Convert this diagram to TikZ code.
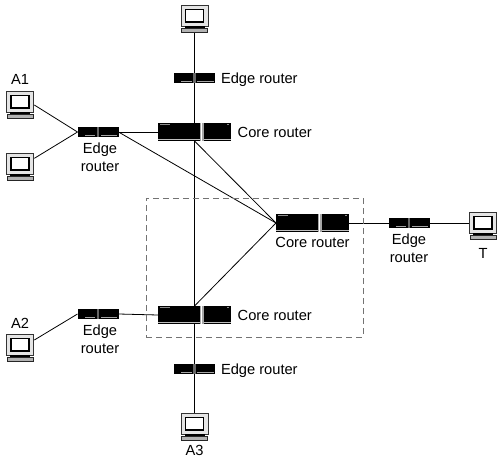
\documentclass[tikz,border=0pt]{standalone}
\usepackage{fontspec}
\setmainfont{Liberation Sans}
\usepackage{tikz}
\usetikzlibrary{positioning}

\begin{document}
\begin{tikzpicture}[
        x=0.75pt, y=-0.75pt,
        node distance=4pt,
        font=\fontsize{11}{13.5}\selectfont,
        link/.style={draw=black, line width=0.6pt},
        label/.style={inner sep=0pt, outer sep=0pt, align=center},
        router/.style={rectangle, fill=black, inner sep=0pt, outer sep=0pt},
        edgerouter/.style={router, minimum width=30.75pt, minimum height=7.5pt,
            path picture={
                \fill[black!60] ([xshift=-0.8pt]path picture bounding box.south) rectangle ([xshift=0.8pt]path picture bounding box.north);
                \fill[black!35] ([xshift=2pt,yshift=0.8pt]path picture bounding box.south) rectangle ([xshift=-1pt,yshift=1.4pt]path picture bounding box.south east);
                \fill[black!35] ([xshift=-10pt,yshift=0.8pt]path picture bounding box.south) rectangle ([xshift=-2pt,yshift=1.4pt]path picture bounding box.south);
            }},
        corerouter/.style={router, minimum width=54.75pt, minimum height=13.5pt,
            path picture={
                \fill[black!25] ([yshift=0.9pt]path picture bounding box.south west) rectangle ([yshift=1.6pt]path picture bounding box.south east);
                \fill[black!35] ([xshift=3.8pt]path picture bounding box.south) rectangle ([xshift=6.8pt]path picture bounding box.north);
                \fill[white] ([xshift=4.7pt]path picture bounding box.south) rectangle ([xshift=5.9pt]path picture bounding box.north);
                \fill[black!45] ([xshift=1.5pt,yshift=-0.8pt]path picture bounding box.north west) rectangle ([xshift=9pt,yshift=-1.6pt]path picture bounding box.north west);
                \fill[black!45] ([xshift=-3pt,yshift=-0.8pt]path picture bounding box.north east) rectangle ([xshift=-1.5pt,yshift=-1.6pt]path picture bounding box.north east);
            }},
        computer/.style={rectangle, inner sep=0pt, outer sep=0pt, minimum width=21.5pt, minimum height=21.5pt,
            path picture={
                \begin{scope}[shift={(path picture bounding box.center)}]
                    \draw[black!80, fill=black!10, line width=0.6pt] (-13.6,-13.6) rectangle (13.6,7);
                    \draw[black, fill=white, line width=1pt] (-9,-9.5) rectangle (9,3);
                    \fill[black] (-10,7) rectangle (10,9);
                    \draw[black!85, fill=black!30, line width=0.5pt] (-13,9) rectangle (13,13.6);
                \end{scope}
            }},
    ]
        \useasboundingbox (0,0) rectangle (500,460);

        % Computers
        \node[computer] (pcTop) at (194.5,19) {};
        \node[computer] (pcA1) at (20,105) {};
        \node[computer] (pcLeft) at (20,167) {};
        \node[computer] (pcA2) at (20,348) {};
        \node[computer] (pcA3) at (194.5,427) {};
        \node[computer] (pcT) at (483,226) {};

        % Routers
        \node[edgerouter] (erTop) at (194.5,78) {};
        \node[edgerouter] (erLeft) at (98,132) {};
        \node[edgerouter] (erLow) at (98,314) {};
        \node[edgerouter] (erBot) at (194.5,369) {};
        \node[edgerouter] (erRight) at (409,223) {};
        \node[corerouter] (crTop) at (194.5,132) {};
        \node[corerouter] (crBot) at (194.5,315) {};
        \node[corerouter] (crRight) at (312.5,223) {};

        % Links
        \draw[link] (pcTop.south) -- (erTop.north);
        \draw[link] (erTop.south) -- (crTop.north);
        \draw[link] (crTop.south) -- (crBot.north);
        \draw[link] (crBot.south) -- (erBot.north);
        \draw[link] (erBot.south) -- (pcA3.north);
        \draw[link] (pcA1.east) -- (erLeft.west);
        \draw[link] ([yshift=6.5pt]pcLeft.east) -- (erLeft.west);
        \draw[link] (erLeft.east) -- (crTop.west);
        \draw[link] (erLeft.east) -- (crRight.west);
        \draw[link] (crTop.south) -- (crRight.west);
        \draw[link] (crBot.north) -- (crRight.west);
        \draw[link] (crRight.east) -- (erRight.west);
        \draw[link] (erRight.east) -- ([yshift=2.25pt]pcT.west);
        \draw[link] ([yshift=6pt]pcA2.east) -- (erLow.west);
        \draw[link] (erLow.east) -- (crBot.west);

        % Domain
        \node[draw=black!55, dash pattern=on 4.5pt off 3pt, line width=0.6pt, minimum width=162.75pt, minimum height=104.25pt, inner sep=0pt] (domain) at (254.5,267.5) {};

        % Labels
        \node[label, right=4.5pt of erTop, yshift=-1.2pt] (erTopText) {Edge router};
        \node[label, right=5pt of crTop] (crTopText) {Core router};
        \node[label, right=5pt of crBot] (crBotText) {Core router};
        \node[label, right=4.5pt of erBot, yshift=-1.2pt] (erBotText) {Edge router};
        \node[label, below=3.7pt of crRight] (crRightText) {Core router};
        \node[label, below=4.5pt of erLeft, xshift=1.5pt] (erLeftText) {Edge\\router};
        \node[label, below=4.5pt of erLow, xshift=1.5pt] (erLowText) {Edge\\router};
        \node[label, below=4.5pt of erRight] (erRightText) {Edge\\router};
        \node[label, above=4.5pt of pcA1] (textA1) {A1};
        \node[label, above=3.8pt of pcA2] (textA2) {A2};
        \node[label, below=3pt of pcA3] (textA3) {A3};
        \node[label, below=6pt of pcT] (textT) {T};

    \end{tikzpicture}
\end{document}
